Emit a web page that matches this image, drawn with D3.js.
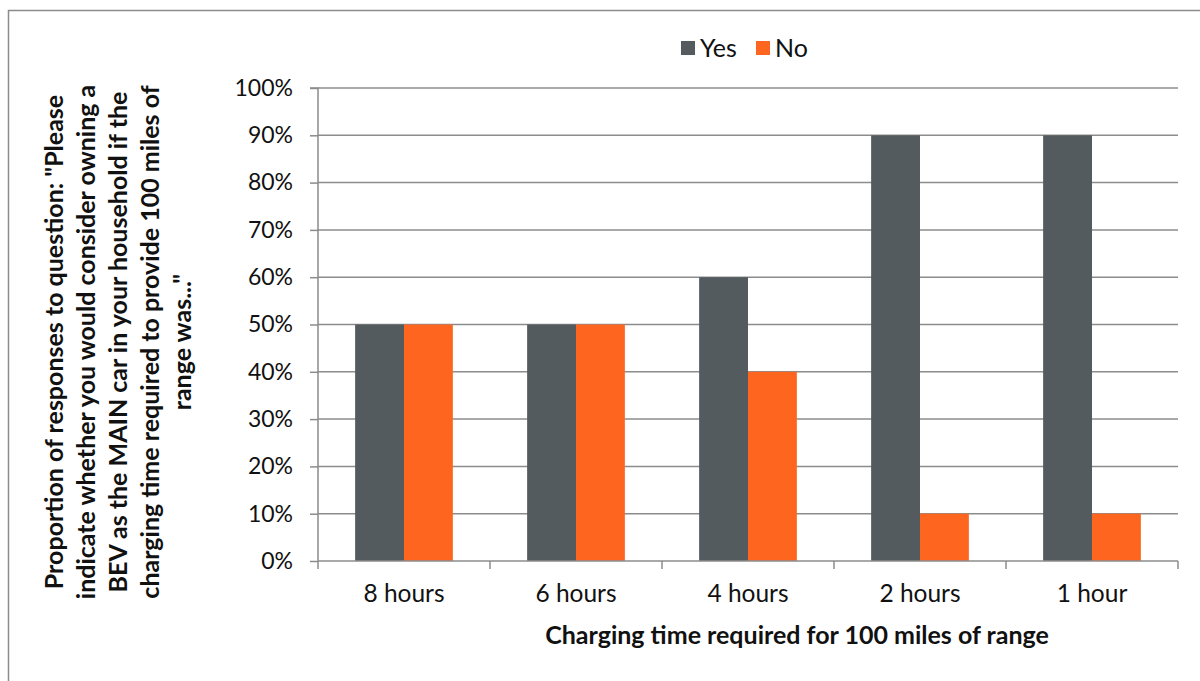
<!DOCTYPE html>
<html>
<head>
<meta charset="utf-8">
<script src="https://cdn.jsdelivr.net/npm/d3@7"></script>
<style>
  html, body { margin: 0; padding: 0; background: #fff; }
  svg { display: block; font-family: Lato, "Open Sans", sans-serif; }
</style>
</head>
<body>
<svg id="chart" width="1200" height="681"></svg>
<script>
// Survey: would respondents consider a BEV as the main household car,
// by the charging time needed for 100 miles of range.
const categories = ["8 hours", "6 hours", "4 hours", "2 hours", "1 hour"];
const seriesNames = ["Yes", "No"];
const yesValues = [50, 50, 60, 90, 90];
const noValues = [50, 50, 40, 10, 10];
const yTicks = [0, 10, 20, 30, 40, 50, 60, 70, 80, 90, 100];
const yTitleLines = [
  "Proportion of responses to question: \"Please",
  "indicate whether you would consider owning a",
  "BEV as the MAIN car in your household if the",
  "charging time required to provide 100 miles of",
  "range was...\""
];
const xTitle = "Charging time required for 100 miles of range";
const colors = { Yes: "#535b5e", No: "#fe6620" };

const svg = d3.select("#chart");

// Outer chart frame
svg.append("rect")
  .attr("x", 8.5).attr("y", 10.5)
  .attr("width", 1300).attr("height", 800)
  .attr("fill", "none").attr("stroke", "#8c8c8c").attr("stroke-width", 1.5);

const plot = { left: 318, right: 1178, top: 88, bottom: 561 };

const x = d3.scaleBand().domain(categories)
  .range([plot.left, plot.right]).paddingInner(0).paddingOuter(0);
const xSeries = d3.scaleBand().domain(seriesNames)
  .range([0, x.bandwidth()]).paddingOuter(0.76).paddingInner(0);
const y = d3.scaleLinear().domain([0, 100]).range([plot.bottom, plot.top]);

const gridColor = "#8c8c8c";

// Horizontal gridlines
svg.append("g").selectAll("line")
  .data(yTicks.filter(t => t > 0))
  .join("line")
  .attr("x1", plot.left).attr("x2", plot.right)
  .attr("y1", d => y(d)).attr("y2", d => y(d))
  .attr("stroke", gridColor).attr("stroke-width", 1.5);

// Bars
const rows = categories.map((c, i) => ({ cat: c, Yes: yesValues[i], No: noValues[i] }));
const groups = svg.append("g").selectAll("g")
  .data(rows).join("g")
  .attr("transform", d => `translate(${x(d.cat)},0)`);
groups.selectAll("rect")
  .data(d => seriesNames.map(s => ({ s, v: d[s] })))
  .join("rect")
  .attr("x", d => xSeries(d.s))
  .attr("width", xSeries.bandwidth())
  .attr("y", d => y(d.v))
  .attr("height", d => y(0) - y(d.v))
  .attr("fill", d => colors[d.s]);

// Y axis
const yAxis = d3.axisLeft(y).tickValues(yTicks)
  .tickFormat(d => d + "%").tickSize(8).tickPadding(17);
const gy = svg.append("g").attr("transform", `translate(${plot.left},0)`).call(yAxis);
gy.select(".domain").attr("stroke", gridColor).attr("stroke-width", 1.5)
  .attr("d", `M-8,${plot.top}H0V${plot.bottom}`);
gy.selectAll(".tick line").attr("stroke", gridColor).attr("stroke-width", 1.5);
gy.selectAll(".tick text").attr("font-size", 23).attr("fill", "#111")
  .attr("font-family", "Lato, sans-serif");

// X axis
const xAxis = d3.axisBottom(x).tickSize(0).tickPadding(24);
const gx = svg.append("g").attr("transform", `translate(0,${plot.bottom})`).call(xAxis);
gx.select(".domain").attr("stroke", gridColor).attr("stroke-width", 1.5)
  .attr("d", `M${plot.left},0H${plot.right}`);
gx.selectAll(".tick text").attr("font-size", 24.5).attr("fill", "#111")
  .attr("font-family", "Lato, sans-serif");
// Category boundary ticks
svg.append("g").selectAll("line")
  .data(categories.concat([null]))
  .join("line")
  .attr("x1", (d, i) => plot.left + i * x.step())
  .attr("x2", (d, i) => plot.left + i * x.step())
  .attr("y1", plot.bottom).attr("y2", plot.bottom + 8)
  .attr("stroke", gridColor).attr("stroke-width", 1.5);

// X title
svg.append("text")
  .attr("x", 797).attr("y", 644)
  .attr("text-anchor", "middle")
  .attr("font-size", 25).attr("font-weight", "bold").attr("fill", "#111")
  .text(xTitle);

// Y title, rotated, five lines
const yt = svg.append("text")
  .attr("transform", "translate(63,342) rotate(-90)")
  .attr("text-anchor", "middle")
  .attr("font-size", 25).attr("font-weight", "bold").attr("fill", "#111");
yTitleLines.forEach((line, i) => {
  yt.append("tspan").attr("x", 0).attr("y", i * 32).text(line);
});

// Legend
const legend = svg.append("g").attr("transform", "translate(681,41)");
const li = legend.selectAll("g").data(seriesNames).join("g")
  .attr("transform", (d, i) => `translate(${i * 75},0)`);
li.append("rect").attr("width", 14).attr("height", 14).attr("fill", d => colors[d]);
li.append("text").attr("x", 19).attr("y", 16)
  .attr("font-size", 25).attr("fill", "#111").text(d => d);
</script>
</body>
</html>
